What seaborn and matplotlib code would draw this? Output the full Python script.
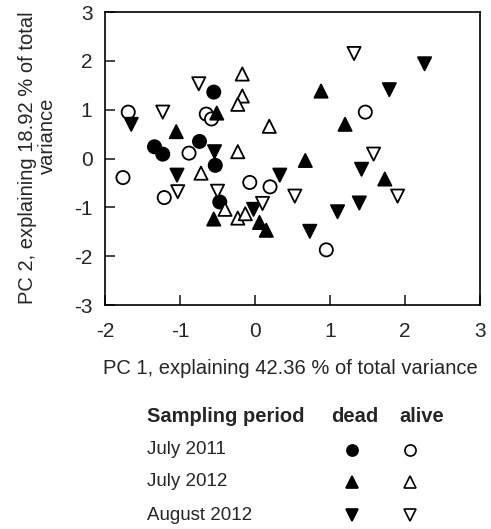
import pandas as pd
import seaborn as sns
import matplotlib.pyplot as plt
from matplotlib.lines import Line2D

sns.set_style("white")
plt.rcParams["font.family"] = ["Liberation Sans", "DejaVu Sans"]
plt.rcParams["axes.unicode_minus"] = False

# PCA scores, per sampling period and status
jul11_dead_x = [-0.55, -1.34, -1.23, -0.74, -0.53, -0.47]
jul11_dead_y = [1.36, 0.24, 0.09, 0.35, -0.14, -0.89]
jul11_alive_x = [-1.69, -0.65, -0.58, -0.88, -1.76, -1.21, -0.07, 0.20, 1.47, 0.95]
jul11_alive_y = [0.95, 0.91, 0.81, 0.11, -0.39, -0.80, -0.49, -0.58, 0.95, -1.87]
jul12_dead_x = [-0.51, -1.05, 0.88, 1.20, 0.67, -0.55, 0.06, 0.15, 1.73]
jul12_dead_y = [0.93, 0.55, 1.38, 0.70, -0.04, -1.24, -1.31, -1.47, -0.42]
jul12_alive_x = [-0.17, -0.17, -0.23, 0.19, -0.23, -0.72, -0.40, -0.23, -0.13]
jul12_alive_y = [1.73, 1.28, 1.11, 0.66, 0.14, -0.30, -1.04, -1.22, -1.13]
aug12_dead_x = [-1.65, -0.54, -1.04, 0.33, 2.26, 1.79, 1.42, 1.39, 1.10, 0.73, -0.02]
aug12_dead_y = [0.70, 0.14, -0.34, -0.34, 1.94, 1.41, -0.22, -0.91, -1.09, -1.49, -1.04]
aug12_alive_x = [-1.23, -0.75, 1.32, 1.58, -1.03, -0.50, 0.53, 1.90, 0.10]
aug12_alive_y = [0.95, 1.53, 2.15, 0.09, -0.68, -0.67, -0.77, -0.77, -0.92]

periods = ["July 2011", "July 2012", "August 2012"]
statuses = ["dead", "alive"]

groups = [
    ("July 2011", "dead", jul11_dead_x, jul11_dead_y),
    ("July 2011", "alive", jul11_alive_x, jul11_alive_y),
    ("July 2012", "dead", jul12_dead_x, jul12_dead_y),
    ("July 2012", "alive", jul12_alive_x, jul12_alive_y),
    ("August 2012", "dead", aug12_dead_x, aug12_dead_y),
    ("August 2012", "alive", aug12_alive_x, aug12_alive_y),
]
rows = []
for period, status, xs, ys in groups:
    for x, y in zip(xs, ys):
        rows.append({"period": period, "status": status, "pc1": x, "pc2": y})
df = pd.DataFrame(rows)

markers = {"July 2011": "o", "July 2012": "^", "August 2012": "v"}
palette = {"dead": "black", "alive": "white"}

fig = plt.figure(figsize=(4.91, 5.29), dpi=100)
ax = fig.add_axes([0.2138, 0.4234, 0.764, 0.5539])

sns.scatterplot(
    data=df,
    x="pc1",
    y="pc2",
    hue="status",
    style="period",
    palette=palette,
    markers=markers,
    s=90,
    edgecolor="black",
    linewidth=1.3,
    legend=False,
    ax=ax,
)

ax.set_xlim(-2, 3)
ax.set_ylim(-3, 3)
ax.set_xticks([-2, -1, 0, 1, 2, 3])
ax.set_yticks([-3, -2, -1, 0, 1, 2, 3])
ax.tick_params(direction="in", length=7, width=1.2, labelsize=15, left=True, bottom=True)
ax.tick_params(axis="x", pad=12)
ax.tick_params(axis="y", pad=9)
for sp in ax.spines.values():
    sp.set_color("black")
    sp.set_linewidth(1.2)
ax.set_xlabel("")
ax.set_ylabel("")

fig.text(290 / 491, 1 - 368 / 529, "PC 1, explaining 42.36 % of total variance", ha="center", va="center", fontsize=14.5)
fig.text(28 / 491, 1 - 158 / 529, "PC 2, explaining 18.92 % of total", rotation=90, ha="center", va="center", fontsize=14.5)
fig.text(47 / 491, 1 - 136 / 529, "variance", rotation=90, ha="center", va="center", fontsize=14.5)

# legend table
fig.text(147 / 491, 1 - 417 / 529, "Sampling period", fontweight="bold", ha="left", va="center", fontsize=14.5)
fig.text(355 / 491, 1 - 417 / 529, "dead", fontweight="bold", ha="center", va="center", fontsize=14.5)
fig.text(422 / 491, 1 - 417 / 529, "alive", fontweight="bold", ha="center", va="center", fontsize=14.5)
row_y = [450, 482, 515]
for period, py in zip(periods, row_y):
    fig.text(147 / 491, 1 - py / 529, period, ha="left", va="center", fontsize=13.5)
    for status, px in zip(statuses, [352, 410]):
        fig.add_artist(Line2D([px / 491], [1 - py / 529], transform=fig.transFigure, marker=markers[period],
                              markersize=8, markerfacecolor=palette[status], markeredgecolor="black",
                              markeredgewidth=1.2, linestyle="none"))

fig.savefig("out.png", dpi=100)
